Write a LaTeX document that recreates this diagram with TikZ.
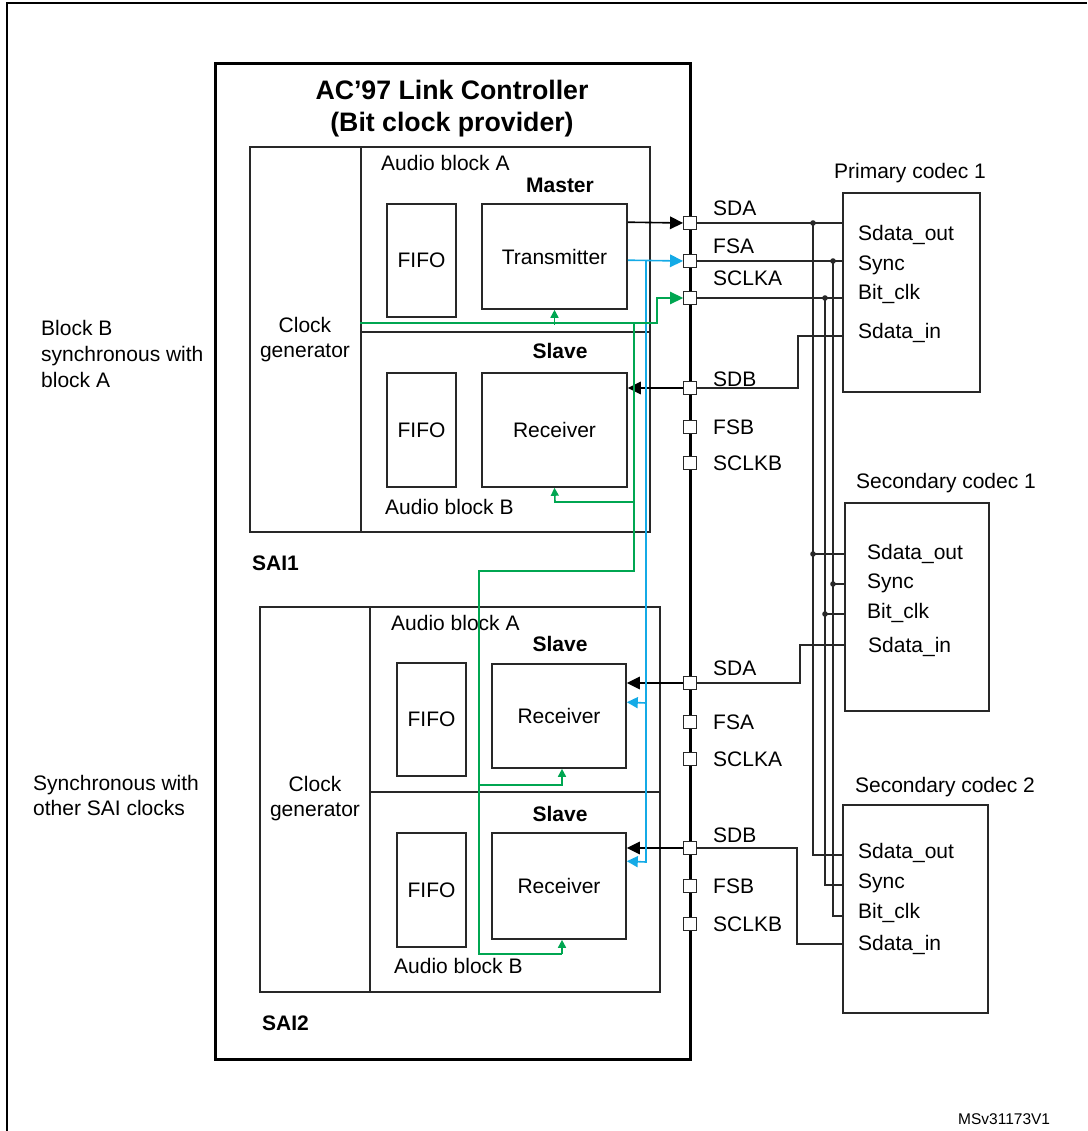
\documentclass[tikz,border=0pt]{standalone}
\usepackage{fontspec}
\setmainfont{Liberation Sans}
\usetikzlibrary{arrows.meta,calc}
\definecolor{lc}{RGB}{40,40,40}
\definecolor{grn}{RGB}{0,166,81}
\definecolor{blu}{RGB}{20,170,230}
\newcommand{\fs}{\fontsize{21}{25}\selectfont}
\newcommand{\fsb}{\fontsize{21}{25}\selectfont\bfseries}
\begin{document}
\begin{tikzpicture}[x=1pt,y=-1pt,
  box/.style={draw=lc,line width=1.6pt,inner sep=0pt,font=\fs},
  pinbox/.style={draw=lc,fill=white,line width=1.4pt,minimum size=12.5pt,inner sep=0pt},
  lbl/.style={font=\fs,inner sep=0pt,anchor=west},
  blbl/.style={font=\fsb,inner sep=0pt},
  wire/.style={draw=lc,line width=1.6pt},
  gw/.style={draw=grn,line width=1.6pt},
  bw/.style={draw=blu,line width=1.6pt},
  bigtip/.style={-{Triangle[length=13pt,width=12.5pt]}},
  midtip/.style={-{Triangle[length=11pt,width=11pt]}},
  smalltip/.style={-{Triangle[length=8pt,width=8pt]}},
  dot/.style={fill=lc}
]
\useasboundingbox (0,0) rectangle (1087,1131);
% outer frame (top and left)
\draw[line width=2.4pt,black] (7,1131) -- (7,3) -- (1087,3);

% link controller
\node[draw=black,line width=3pt,minimum width=475pt,minimum height=995pt,inner sep=0pt] (lc) at (452.5,561.5) {};
\node[font=\fontsize{26.7}{32}\selectfont\bfseries,align=center,inner sep=0pt] (title) at (452,109) {AC’97 Link Controller\\(Bit clock provider)};

% left texts
\node[font=\fontsize{21}{26}\selectfont,align=left,anchor=west,inner sep=0pt] (notea) at (41,354) {Block B\\synchronous with\\block A};
\node[font=\fontsize{21}{25}\selectfont,align=left,anchor=west,inner sep=0pt] (noteb) at (33,795) {Synchronous with\\other SAI clocks};

% ---------- SAI1 ----------
\node[box,minimum width=400pt,minimum height=385pt] (sai1) at (450,339.5) {};
\draw[wire] (361,147) -- (361,532);
\draw[wire] (361,332) -- (650,332);
\node[font=\fs,align=center,inner sep=0pt] (cg1) at (305,340) {Clock\\generator};
\node[lbl] (ab1a) at (381,163) {Audio block A};
\node[blbl] (m1) at (560,185) {Master};
\node[box,minimum width=69pt,minimum height=113pt] (f1a) at (421.5,260.5) {FIFO};
\node[box,minimum width=145pt,minimum height=105pt] (tx) at (554.5,256.5) {Transmitter};
\node[blbl] (s1) at (560,351) {Slave};
\node[box,minimum width=69pt,minimum height=114pt] (f1b) at (421.5,430) {FIFO};
\node[box,minimum width=145pt,minimum height=114pt] (rx1) at (554.5,430) {Receiver};
\node[lbl] (ab1b) at (385,507) {Audio block B};
\node[blbl,anchor=west] (sai1l) at (252,563) {SAI1};

% ---------- SAI2 ----------
\node[box,minimum width=400pt,minimum height=385pt] (sai2) at (460,799.5) {};
\draw[wire] (370,607) -- (370,992);
\draw[wire] (370,792) -- (660,792);
\node[font=\fs,align=center,inner sep=0pt] (cg2) at (315,799) {Clock\\generator};
\node[lbl] (ab2a) at (391,623) {Audio block A};
\node[blbl] (s2a) at (560,644) {Slave};
\node[box,minimum width=69pt,minimum height=113pt] (f2a) at (431.5,719.5) {FIFO};
\node[box,minimum width=134pt,minimum height=104pt] (rx2a) at (559,716) {Receiver};
\node[blbl] (s2b) at (560,814) {Slave};
\node[box,minimum width=69pt,minimum height=114pt] (f2b) at (431.5,890) {FIFO};
\node[box,minimum width=134pt,minimum height=106pt] (rx2b) at (559,886) {Receiver};
\node[lbl] (ab2b) at (394,966) {Audio block B};
\node[blbl,anchor=west] (sai2l) at (262,1023) {SAI2};

% ---------- codecs ----------
\node[font=\fs,inner sep=0pt] (pc1l) at (910,173) {Primary codec 1};
\node[box,minimum width=137pt,minimum height=199pt] (pc1) at (911.5,292.5) {};
\node[lbl] (pc1t1) at (858,235) {Sdata\_out};
\node[lbl] (pc1t2) at (858,265) {Sync};
\node[lbl] (pc1t3) at (858,294) {Bit\_clk};
\node[lbl] (pc1t4) at (858,333) {Sdata\_in};

\node[font=\fs,inner sep=0pt] (sc1l) at (946,483) {Secondary codec 1};
\node[box,minimum width=144pt,minimum height=208pt] (sc1) at (917,607) {};
\node[lbl] (sc1t1) at (867,554) {Sdata\_out};
\node[lbl] (sc1t2) at (867,583) {Sync};
\node[lbl] (sc1t3) at (867,613) {Bit\_clk};
\node[lbl] (sc1t4) at (868,647) {Sdata\_in};

\node[font=\fs,inner sep=0pt] (sc2l) at (945,787) {Secondary codec 2};
\node[box,minimum width=145pt,minimum height=208pt] (sc2) at (915.5,909) {};
\node[lbl] (sc2t1) at (858,853) {Sdata\_out};
\node[lbl] (sc2t2) at (858,883) {Sync};
\node[lbl] (sc2t3) at (858,913) {Bit\_clk};
\node[lbl] (sc2t4) at (858,945) {Sdata\_in};

\node[font=\fontsize{15.5}{18}\selectfont,anchor=west,inner sep=0pt] (ref) at (958,1119) {MSv31173V1};

% codec pin coordinates
\coordinate (c1in) at (843,336);
\coordinate (k1out) at (845,554);
\coordinate (k1sync) at (845,584);
\coordinate (k1clk) at (845,614);
\coordinate (k1in) at (845,645);
\coordinate (k2out) at (843,855);
\coordinate (k2sync) at (843,885);
\coordinate (k2clk) at (843,916);
\coordinate (k2in) at (843,944);
\coordinate (jA) at (813,223);
\coordinate (jF) at (833,261);
\coordinate (jC) at (825,298);
\coordinate (jA2) at (813,554);
\coordinate (jF2) at (833,584);
\coordinate (jC2) at (825,614);

% ---------- right side wires ----------
\draw[wire] (690,223) -- (690,223 -| pc1.west);
\draw[wire] (690,261) -- (690,261 -| pc1.west);
\draw[wire] (690,298) -- (690,298 -| pc1.west);
\draw[wire] (c1in) -- (798,336) |- (690,388);
\draw[wire] (jA) |- (k2out);
\draw[wire] (jC) |- (k2sync);
\draw[wire] (jF) |- (k2clk);
\draw[wire] (jA2) -- (k1out);
\draw[wire] (jF2) -- (k1sync);
\draw[wire] (jC2) -- (k1clk);
\draw[wire] (k1in) -- (800,645) |- (690,683);
\draw[wire] (k2in) -- (797,944) |- (690,848);
\foreach \j in {jA,jF,jC,jA2,jF2,jC2} \fill[dot] (\j) circle (2.8pt);

% ---------- pins ----------
\node[pinbox] (p1sda) at (690,223) {};
\node[pinbox] (p1fsa) at (690,261) {};
\node[pinbox] (p1sck) at (690,298) {};
\node[pinbox] (p1sdb) at (690,388) {};
\node[pinbox] (p1fsb) at (690,427) {};
\node[pinbox] (p1sckb) at (690,463) {};
\node[pinbox] (p2sda) at (690,683) {};
\node[pinbox] (p2fsa) at (690,722) {};
\node[pinbox] (p2sck) at (690,759) {};
\node[pinbox] (p2sdb) at (690,848) {};
\node[pinbox] (p2fsb) at (690,886) {};
\node[pinbox] (p2sckb) at (690,924) {};

\node[lbl] at (713,208) {SDA};
\node[lbl] at (713,246) {FSA};
\node[lbl] at (713,278) {SCLKA};
\node[lbl] at (713,379) {SDB};
\node[lbl] at (713,427) {FSB};
\node[lbl] at (713,463) {SCLKB};
\node[lbl] at (713,668) {SDA};
\node[lbl] at (713,722) {FSA};
\node[lbl] at (713,759) {SCLKA};
\node[lbl] at (713,835) {SDB};
\node[lbl] at (713,886) {FSB};
\node[lbl] at (713,924) {SCLKB};

% ---------- black data arrows ----------
\draw[draw=black,line width=1.6pt,bigtip] ($(tx.north east)+(0,19)$) -- (p1sda.west);
\draw[draw=black,line width=1.6pt,bigtip] (p1sdb.west) -- (p1sdb -| rx1.east);
\draw[draw=black,line width=1.6pt,bigtip] (p2sda.west) -- (p2sda -| rx2a.east);
\draw[draw=black,line width=1.6pt,bigtip] (p2sdb.west) -- (p2sdb -| rx2b.east);

% ---------- blue frame sync ----------
\draw[bw,bigtip] ($(tx.north east)+(0,57)$) -- (p1fsa.west);
\draw[bw,midtip] (646,261) -- (646,862) -- ($(rx2b.north east)+(0,29)$);
\draw[bw,midtip] (646,703) -- ($(rx2a.north east)+(0,39)$);

% ---------- green clock ----------
\draw[gw,bigtip] ($(sai1.north west)+(111,177)$) -| (657,298) -- (p1sck.west);
\draw[gw,smalltip] ($(tx.south)+(0,15)$) -- (tx.south);
\draw[gw] (634,324) -- (634,571) -- (479,571) -- (479,954) -- (562,954);
\draw[gw,smalltip] (562,954) -- ($(rx2b.south)+(3,0)$);
\draw[gw,smalltip] (634,502) -- (555,502) -- (rx1.south);
\draw[gw,smalltip] (479,785) -- (562,785) -- ($(rx2a.south)+(3,0)$);
\end{tikzpicture}
\end{document}
